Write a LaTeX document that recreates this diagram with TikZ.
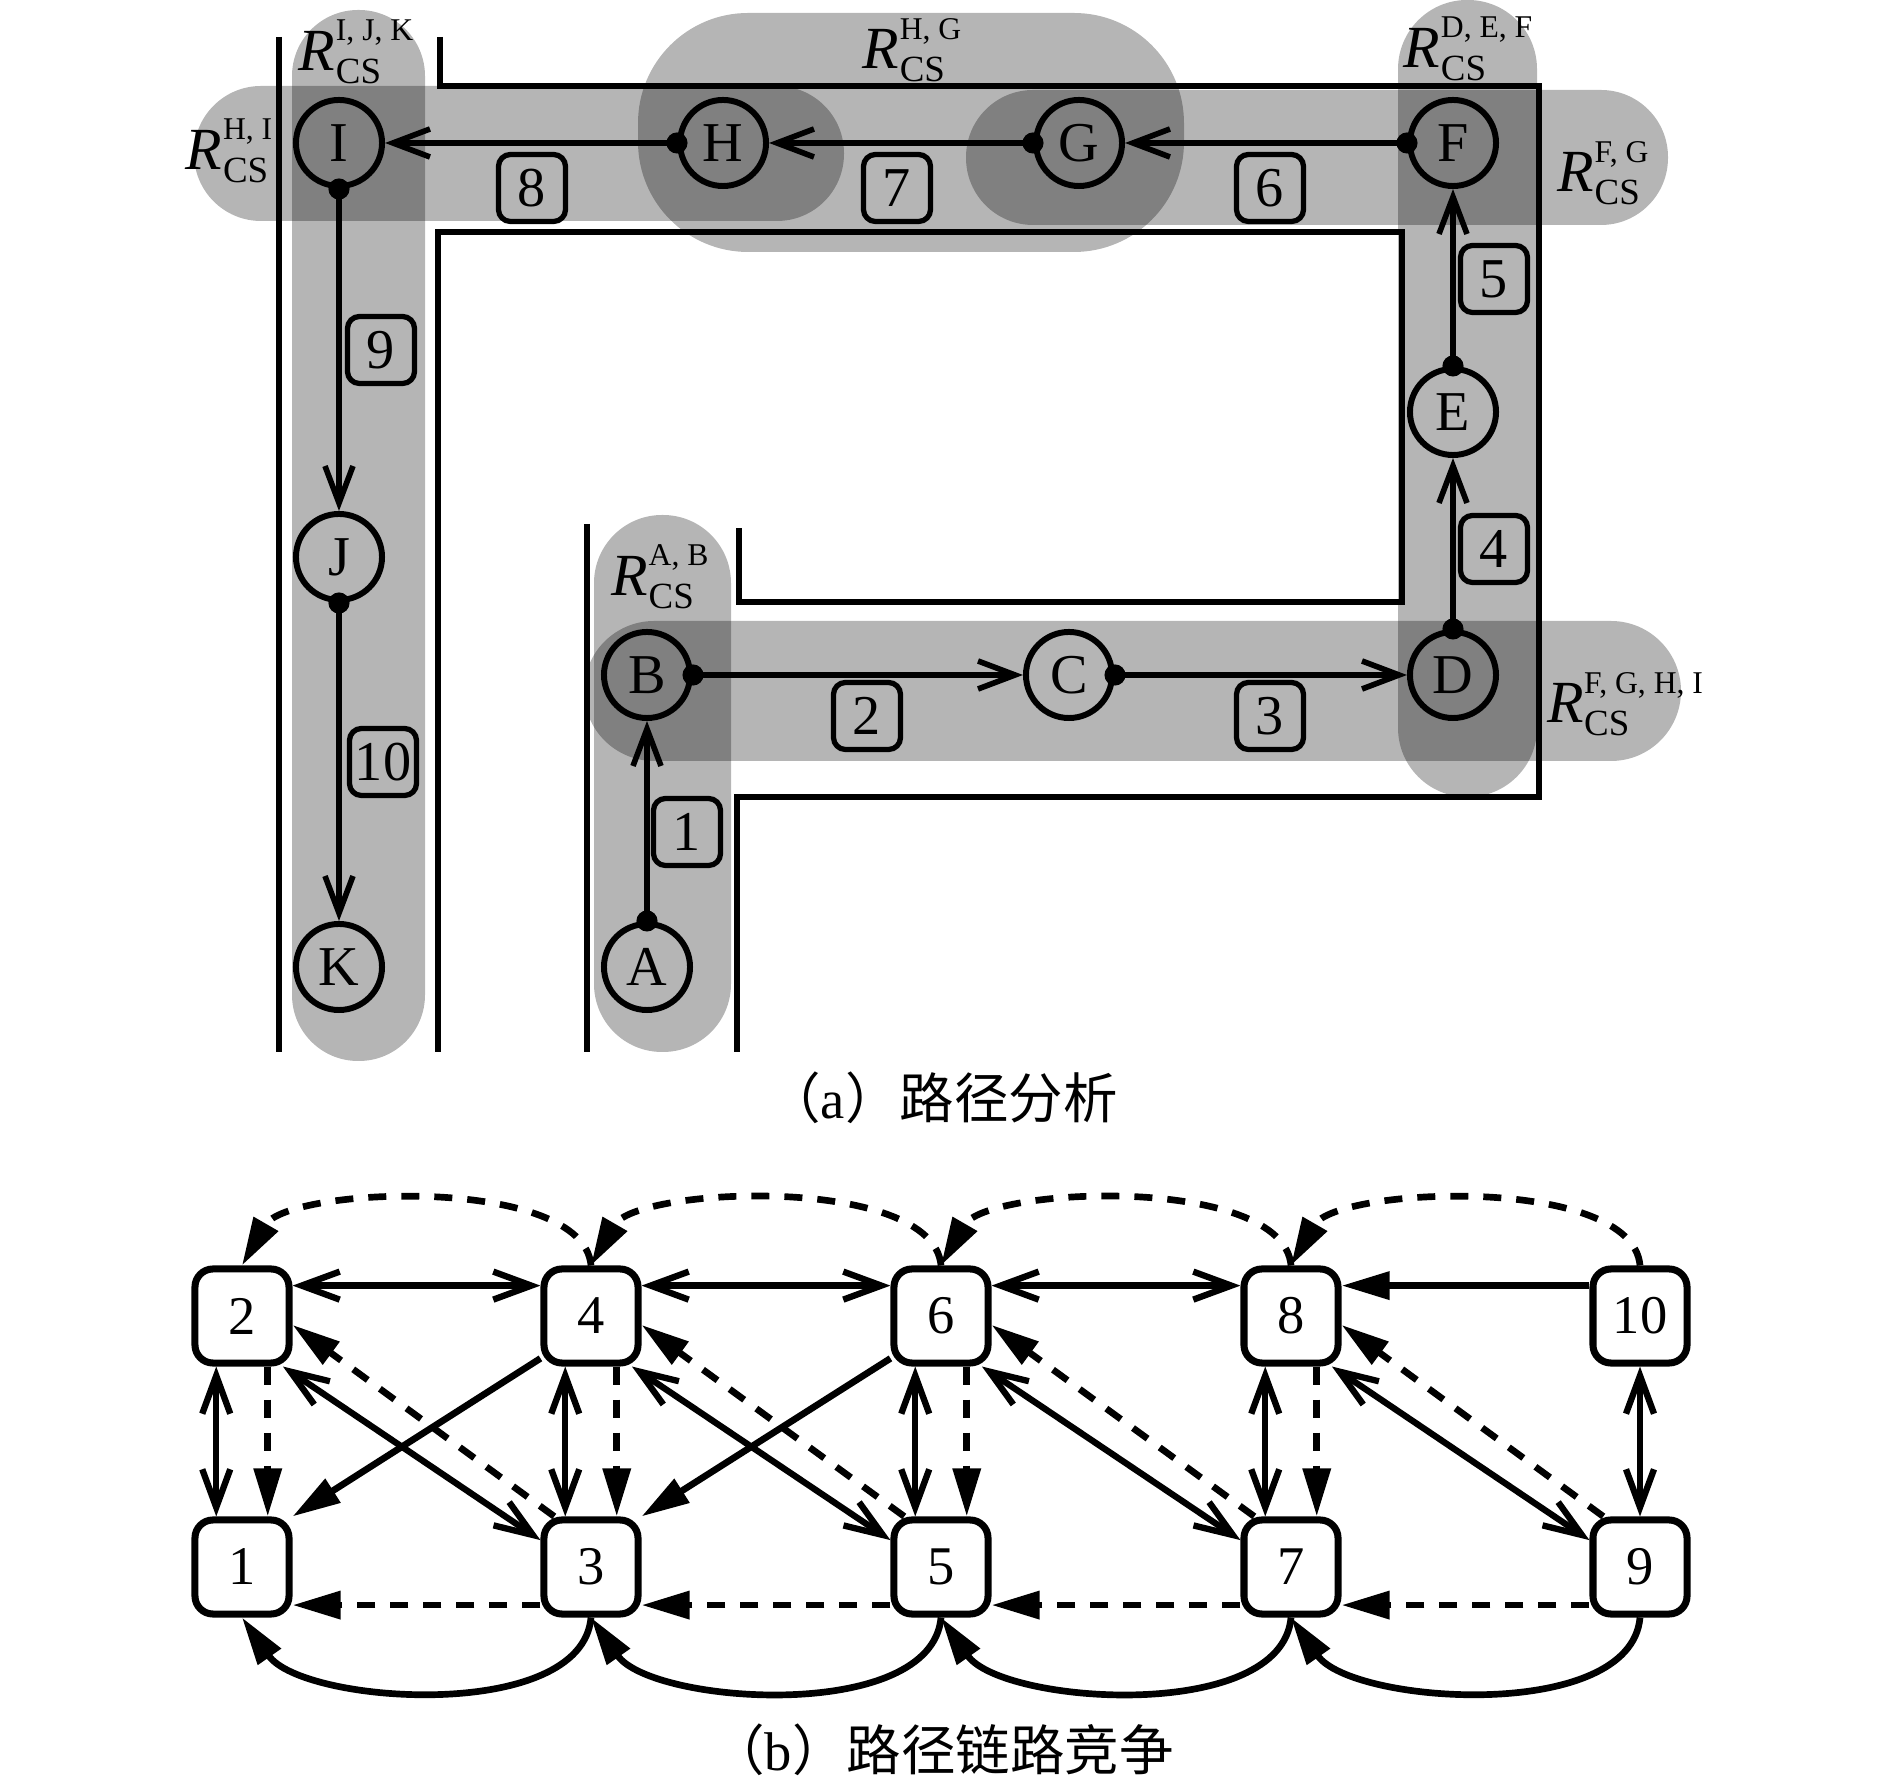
\documentclass[tikz,border=0pt]{standalone}
\usepackage{fontspec}
\setmainfont{Liberation Serif}
\newfontfamily\cjk{Noto Sans CJK SC}
\usetikzlibrary{arrows.meta}
\newcommand{\rcs}[1]{{\itshape R}\kern0.2pt\rlap{\raisebox{8.3pt}{\fontsize{9}{9}\selectfont #1}}\rlap{\raisebox{-3.8pt}{\fontsize{10.5}{10.5}\selectfont CS}}\phantom{\fontsize{9}{9}\selectfont #1}}

\begin{document}
\begin{tikzpicture}[x=0.01cm,y=0.01cm,
        band/.style={
                fill=black,
                fill opacity=0.29,
                draw=none
        },
        wall/.style={line width=1.7pt},
        junc/.style={
                draw,
                circle,
                line width=1.7pt,
                minimum size=0.86cm,
                inner sep=0pt,
                font=\fontsize{16}{16}\selectfont
        },
        lnk/.style={
                draw,
                rounded corners=0.12cm,
                line width=1.5pt,
                minimum width=0.67cm,
                minimum height=0.67cm,
                inner sep=1.5pt,
                font=\fontsize{16}{16}\selectfont
        },
        rlab/.style={inner sep=0pt,font=\fontsize{17}{17}\selectfont},
        hop/.style={
                line width=1.6pt,
                {Circle[length=2.1mm]}-{Straight Barb[length=3.7mm,width=2.8mm]},
                shorten <=-1.05mm
        },
        sq/.style={
                draw,
                rounded corners=0.18cm,
                line width=2pt,
                minimum size=0.94cm,
                inner sep=0pt,
                font=\fontsize{15.5}{15.5}\selectfont
        },
        both/.style={
                line width=1.8pt,
                {Straight Barb[length=3.8mm,width=2.8mm]}-{Straight Barb[length=3.8mm,width=2.8mm]}
        },
        one/.style={line width=1.9pt,-{Triangle[length=4.8mm,width=2.7mm]}},
        dsh/.style={one,dash pattern=on 1.8mm off 1.5mm},
        captxt/.style={font=\fontsize{15.5}{15.5}\selectfont}
        ]
        \useasboundingbox (0,0) rectangle (1890,-1783);

        % (a) shaded regions
        \fill[band,rounded corners=1.1cm] (638,-13) rectangle (1184,-252);
        \fill[band,rounded corners=0.66cm] (292,-10) rectangle (425,-1061);
        \fill[band,rounded corners=0.67cm] (194,-86) rectangle (844,-221);
        \fill[band,rounded corners=0.67cm] (966,-90) rectangle (1668,-225);
        \fill[band,rounded corners=0.69cm] (1398,0) rectangle (1537,-797);
        \fill[band,rounded corners=0.68cm] (594,-515) rectangle (731,-1052);
        \fill[band,rounded corners=0.70cm] (584,-621) rectangle (1681,-761);

        \draw[wall] (279,-37) -- (279,-1052);
        \draw[wall] (440,-37) -- (440,-86) -- (1539,-86) -- (1539,-797) -- (737,-797) -- (737,-1052);
        \draw[wall] (438,-1052) -- (438,-232) -- (1402,-232) -- (1402,-602) -- (739,-602) -- (739,-528);
        \draw[wall] (587,-524) -- (587,-1052);

        \node[junc] (A) at (647,-967) {A};
        \node[junc] (B) at (647,-675) {B};
        \node[junc] (C) at (1069,-675) {C};
        \node[junc] (D) at (1453,-675) {D};
        \node[junc] (E) at (1453,-412) {E};
        \node[junc] (F) at (1453,-143) {F};
        \node[junc] (G) at (1079,-143) {G};
        \node[junc] (H) at (723,-143) {H};
        \node[junc] (I) at (339,-143) {I};
        \node[junc] (J) at (339,-557) {J};
        \node[junc] (K) at (339,-967) {K};

        \draw[hop] (A) -- (B);
        \draw[hop] (B) -- (C);
        \draw[hop] (C) -- (D);
        \draw[hop] (D) -- (E);
        \draw[hop] (E) -- (F);
        \draw[hop] (F) -- (G);
        \draw[hop] (G) -- (H);
        \draw[hop] (H) -- (I);
        \draw[hop] (I) -- (J);
        \draw[hop] (J) -- (K);

        \node[lnk] (l1) at (687,-832) {1};
        \node[lnk] (l2) at (867,-716) {2};
        \node[lnk] (l3) at (1270,-716) {3};
        \node[lnk] (l4) at (1494,-549) {4};
        \node[lnk] (l5) at (1494,-279) {5};
        \node[lnk] (l6) at (1270,-188) {6};
        \node[lnk] (l7) at (897,-188) {7};
        \node[lnk] (l8) at (532,-188) {8};
        \node[lnk] (l9) at (381,-350) {9};
        \node[lnk] (l10) at (383,-762) {10};

        \node[rlab] (rijk) at (356,-52) {\rcs{I, J, K}};
        \node[rlab] (rhi) at (229,-151) {\rcs{H, I}};
        \node[rlab] (rhg) at (912,-50) {\rcs{H, G}};
        \node[rlab] (rdef) at (1468,-49) {\rcs{D, E, F}};
        \node[rlab] (rfg) at (1603,-173) {\rcs{F, G}};
        \node[rlab] (rab) at (660,-577) {\rcs{A, B}};
        \node[rlab] (rfghi) at (1625,-704) {\rcs{F, G, H, I}};

        \node[captxt] (capa) at (942,-1098) {{\cjk （}a{\cjk ）路径分析}};

        % (b) link contention
        \node[sq] (b2) at (242,-1316) {2};
        \node[sq] (b4) at (591,-1316) {4};
        \node[sq] (b6) at (941,-1316) {6};
        \node[sq] (b8) at (1291,-1316) {8};
        \node[sq] (b10) at (1640,-1316) {10};
        \node[sq] (b1) at (242,-1567) {1};
        \node[sq] (b3) at (591,-1567) {3};
        \node[sq] (b5) at (941,-1567) {5};
        \node[sq] (b7) at (1291,-1567) {7};
        \node[sq] (b9) at (1640,-1567) {9};

        \draw[both] (b2.31) -- (b4.149);
        \draw[both] (b4.31) -- (b6.149);
        \draw[both] (b6.31) -- (b8.149);
        \draw[one] (b10.149) -- (b8.31);

        \draw[both] (b2.-117) -- (b1.117);
        \draw[dsh] (b2.-63) -- (b1.63);
        \draw[both] (b4.-117) -- (b3.117);
        \draw[dsh] (b4.-63) -- (b3.63);
        \draw[both] (b6.-117) -- (b5.117);
        \draw[dsh] (b6.-63) -- (b5.63);
        \draw[both] (b8.-117) -- (b7.117);
        \draw[dsh] (b8.-63) -- (b7.63);
        \draw[both] (b10) -- (b9);

        \draw[both] (b2.-51) -- (b3.152);
        \draw[dsh] (b3.126) -- (b2.-10);
        \draw[both] (b4.-51) -- (b5.152);
        \draw[dsh] (b5.126) -- (b4.-10);
        \draw[both] (b6.-51) -- (b7.152);
        \draw[dsh] (b7.126) -- (b6.-10);
        \draw[both] (b8.-51) -- (b9.152);
        \draw[dsh] (b9.126) -- (b8.-10);
        \draw[one] (b4.-140) -- (b1.45);
        \draw[one] (b6.-140) -- (b3.45);

        \draw[dsh] (b3.-143) -- (b1.-37);
        \draw[dsh] (b5.-143) -- (b3.-37);
        \draw[dsh] (b7.-143) -- (b5.-37);
        \draw[dsh] (b9.-143) -- (b7.-37);

        \draw[one] (b3.south) to[out=-95,in=-55,looseness=0.78] (b1.south);
        \draw[one] (b5.south) to[out=-95,in=-55,looseness=0.78] (b3.south);
        \draw[one] (b7.south) to[out=-95,in=-55,looseness=0.78] (b5.south);
        \draw[one] (b9.south) to[out=-95,in=-55,looseness=0.78] (b7.south);

        \draw[dsh] (b4.north) to[out=95,in=60,looseness=0.67] (b2.north);
        \draw[dsh] (b6.north) to[out=95,in=60,looseness=0.67] (b4.north);
        \draw[dsh] (b8.north) to[out=95,in=60,looseness=0.67] (b6.north);
        \draw[dsh] (b10.north) to[out=95,in=60,looseness=0.67] (b8.north);

        \node[captxt] (capb) at (942,-1750) {{\cjk （}b{\cjk ）路径链路竞争}};
\end{tikzpicture}
\end{document}
